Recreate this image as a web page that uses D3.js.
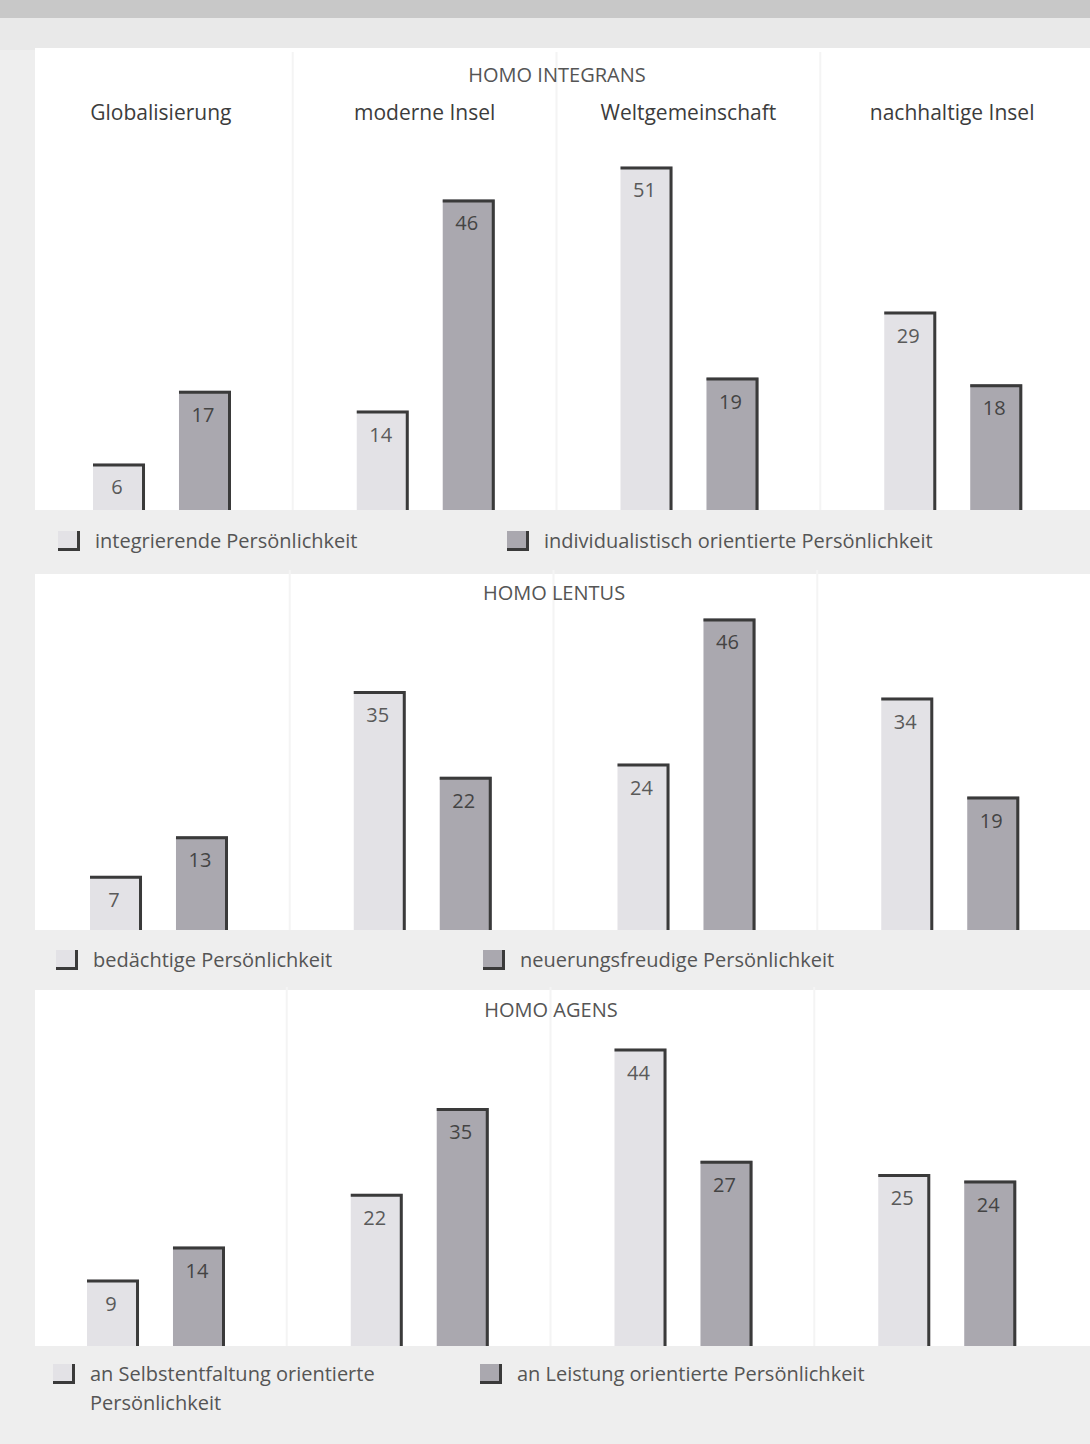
<!DOCTYPE html>
<html><head><meta charset="utf-8">
<script src="https://cdn.jsdelivr.net/npm/d3@7"></script>
<style>html,body{margin:0;padding:0;background:#ececec;}svg{display:block;}</style>
</head><body>
<script>
const categories = ["Globalisierung", "moderne Insel", "Weltgemeinschaft", "nachhaltige Insel"];
const panelTitles = ["HOMO INTEGRANS", "HOMO LENTUS", "HOMO AGENS"];
const seriesKeys = ["hell", "dunkel"];
const integransLight = [6, 14, 51, 29];
const integransDark = [17, 46, 19, 18];
const lentusLight = [7, 35, 24, 34];
const lentusDark = [13, 22, 46, 19];
const agensLight = [9, 22, 44, 25];
const agensDark = [14, 35, 27, 24];
const legendIntegrans = [["integrierende Persönlichkeit"], ["individualistisch orientierte Persönlichkeit"]];
const legendLentus = [["bedächtige Persönlichkeit"], ["neuerungsfreudige Persönlichkeit"]];
const legendAgens = [["an Selbstentfaltung orientierte", "Persönlichkeit"], ["an Leistung orientierte Persönlichkeit"]];

const W = 1090, H = 1444;
const svg = d3.select("body").append("svg").attr("width", W).attr("height", H);
const font = "'Open Sans', 'Noto Sans', sans-serif";

// background
svg.append("rect").attr("width", W).attr("height", H).attr("fill", "#eeeeee");
svg.append("rect").attr("x", 0).attr("y", 0).attr("width", W).attr("height", 18).attr("fill", "#c8c8c8");
svg.append("rect").attr("x", 0).attr("y", 18).attr("width", W).attr("height", 32).attr("fill", "#e9e9e9");
svg.append("rect").attr("x", 35).attr("y", 48).attr("width", W - 35).attr("height", 1378).attr("fill", "#ffffff");

const panels = [
  {title: panelTitles[0], light: integransLight, dark: integransDark, legend: legendIntegrans,
   titleY: 82, baseline: 503, shift: 0, bandY: 510, bandH: 64, legY: 548, legX: [58, 507], showCats: true},
  {title: panelTitles[1], light: lentusLight, dark: lentusDark, legend: legendLentus,
   titleY: 600, baseline: 922, shift: -3, bandY: 930, bandH: 60, legY: 967, legX: [56, 483], showCats: false},
  {title: panelTitles[2], light: agensLight, dark: agensDark, legend: legendAgens,
   titleY: 1017, baseline: 1339, shift: -6, bandY: 1346, bandH: 80, legY: 1381, legX: [53, 480], showCats: false}
];

const pxPerUnit = 6.6;

panels.forEach(p => {
  const g = svg.append("g");
  const x = d3.scaleBand().domain(categories).range([29 + p.shift, 1084 + p.shift]).padding(0);
  const xi = d3.scaleBand().domain(seriesKeys).range([64, 202]).paddingInner(0.395).paddingOuter(0);
  const y = d3.scaleLinear().domain([0, 51]).range([p.baseline, p.baseline - 51 * pxPerUnit]);

  // faint separators
  categories.slice(1).forEach(c => {
    g.append("line").attr("x1", x(c)).attr("x2", x(c))
      .attr("y1", p.titleY - 30).attr("y2", p.bandY)
      .attr("stroke", "#f4f4f4").attr("stroke-width", 2);
  });

  g.append("text").attr("x", 557 + p.shift).attr("y", p.titleY)
    .attr("text-anchor", "middle").attr("font-family", font).attr("font-size", 20)
    .attr("fill", "#555").text(p.title);

  if (p.showCats) {
    g.selectAll("text.cat").data(categories).join("text").attr("class", "cat")
      .attr("x", d => x(d) + x.bandwidth() / 2).attr("y", 120)
      .attr("text-anchor", "middle").attr("font-family", font).attr("font-size", 21)
      .attr("fill", "#3c3c3c").text(d => d);
  }

  const data = [];
  categories.forEach((c, i) => {
    data.push({cat: c, key: "hell", v: p.light[i]});
    data.push({cat: c, key: "dunkel", v: p.dark[i]});
  });

  const bottom = p.bandY;
  const bars = g.selectAll("g.bar").data(data).join("g").attr("class", "bar");
  bars.append("rect")
    .attr("x", d => x(d.cat) + xi(d.key))
    .attr("y", d => y(d.v))
    .attr("width", xi.bandwidth())
    .attr("height", d => bottom - y(d.v))
    .attr("fill", d => d.key === "hell" ? "#e3e2e6" : "#aaa8af");
  bars.append("path")
    .attr("d", d => {
      const x0 = x(d.cat) + xi(d.key), x1 = x0 + xi.bandwidth(), t = y(d.v);
      return `M${x0},${t + 1.5}L${x1 - 1.5},${t + 1.5}L${x1 - 1.5},${bottom}`;
    })
    .attr("fill", "none").attr("stroke", "#3a3a3a").attr("stroke-width", 3);
  bars.append("text")
    .attr("x", d => x(d.cat) + xi(d.key) + xi.bandwidth() / 2 - 2)
    .attr("y", d => y(d.v) + 31)
    .attr("text-anchor", "middle").attr("font-family", font).attr("font-size", 20)
    .attr("fill", d => d.key === "hell" ? "#5a5a5a" : "#444").text(d => d.v);

  // legend band
  g.append("rect").attr("x", 35).attr("y", p.bandY).attr("width", W - 35).attr("height", p.bandH)
    .attr("fill", "#eeeeee");

  p.legend.forEach((lines, k) => {
    const lx = p.legX[k], ly = p.legY;
    g.append("rect").attr("x", lx).attr("y", ly - 17).attr("width", 20).attr("height", 20)
      .attr("fill", k === 0 ? "#e3e2e6" : "#aaa8af");
    g.append("path").attr("d", `M${lx},${ly + 1.5}L${lx + 20.5},${ly + 1.5}L${lx + 20.5},${ly - 17}`)
      .attr("fill", "none").attr("stroke", "#3a3a3a").attr("stroke-width", 3);
    const t = g.append("text").attr("x", lx + 37).attr("y", ly).attr("font-family", font)
      .attr("font-size", 20).attr("fill", "#555");
    lines.forEach((ln, j) => {
      t.append("tspan").attr("x", lx + 37).attr("dy", j === 0 ? 0 : 29).text(ln);
    });
  });
});
</script>
</body></html>
